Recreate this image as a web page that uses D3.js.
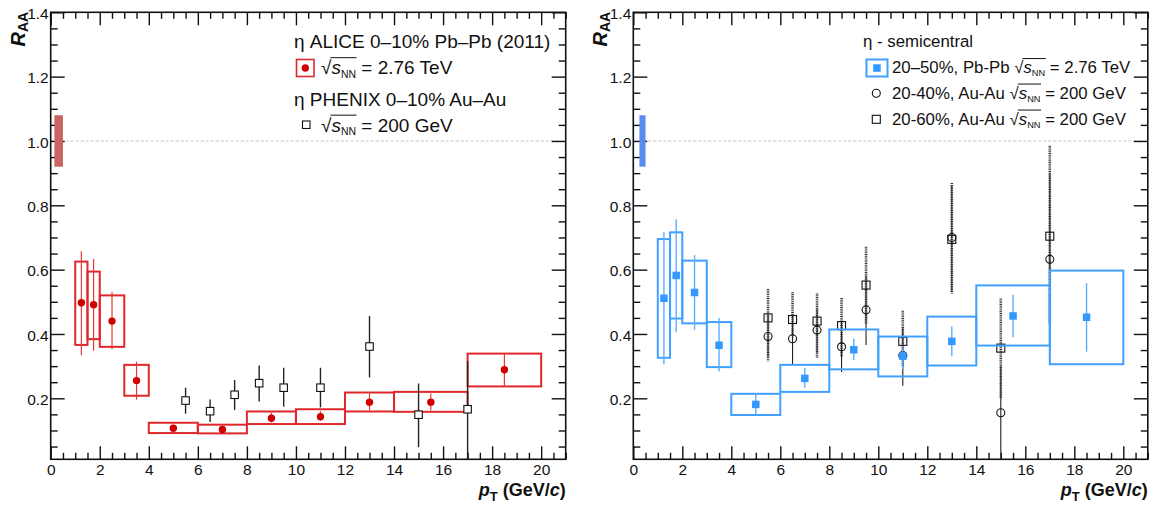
<!DOCTYPE html>
<html>
<head>
<meta charset="utf-8">
<script src="https://cdn.jsdelivr.net/npm/d3@7"></script>
<style>
  html, body { margin: 0; padding: 0; background: #fff; }
  svg { display: block; font-family: "Liberation Sans", Arial, Helvetica, sans-serif; }
</style>
</head>
<body>
<svg id="chart" width="1162" height="507"></svg>
<script>
// ---------------- DATA ----------------
// axis ticks
const xTickValues = [0, 2, 4, 6, 8, 10, 12, 14, 16, 18, 20];
const xTickLabels = ["0", "2", "4", "6", "8", "10", "12", "14", "16", "18", "20"];
const yTickValues = [0.2, 0.4, 0.6, 0.8, 1.0, 1.2, 1.4];
const yTickLabels = ["0.2", "0.4", "0.6", "0.8", "1.0", "1.2", "1.4"];

// ALICE 0-10% Pb-Pb (left panel)
const aliceCentPt     = [1.25, 1.75, 2.5, 3.5, 5, 7, 9, 11, 13, 15.5, 18.5];
const aliceCentBinLo  = [1, 1.5, 2, 3, 4, 6, 8, 10, 12, 14, 17];
const aliceCentBinHi  = [1.5, 2, 3, 4, 6, 8, 10, 12, 14, 17, 20];
const aliceCentRaa    = [0.497, 0.491, 0.440, 0.255, 0.107, 0.103, 0.138, 0.143, 0.188, 0.188, 0.289];
const aliceCentStatLo = [0.334, 0.348, 0.353, 0.196, 0.097, 0.095, 0.125, 0.130, 0.162, 0.162, 0.237];
const aliceCentStatHi = [0.657, 0.633, 0.530, 0.314, 0.118, 0.112, 0.155, 0.160, 0.215, 0.215, 0.339];
const aliceCentSysLo  = [0.366, 0.384, 0.360, 0.208, 0.092, 0.091, 0.120, 0.120, 0.159, 0.158, 0.237];
const aliceCentSysHi  = [0.625, 0.594, 0.520, 0.304, 0.124, 0.118, 0.159, 0.166, 0.218, 0.220, 0.339];

// PHENIX 0-10% Au-Au (left panel)
const phenixCentPt    = [5.5, 6.5, 7.5, 8.5, 9.5, 11, 13, 15, 17];
const phenixCentRaa   = [0.193, 0.160, 0.211, 0.247, 0.233, 0.233, 0.361, 0.149, 0.166];
const phenixCentErrLo = [0.152, 0.126, 0.164, 0.190, 0.174, 0.172, 0.265, 0.048, 0.012];
const phenixCentErrHi = [0.233, 0.196, 0.257, 0.302, 0.295, 0.295, 0.456, 0.246, 0.315];

// ALICE 20-50% Pb-Pb (right panel)
const aliceSemiPt     = [1.25, 1.75, 2.5, 3.5, 5, 7, 9, 11, 13, 15.5, 18.5];
const aliceSemiBinLo  = [1, 1.5, 2, 3, 4, 6, 8, 10, 12, 14, 17];
const aliceSemiBinHi  = [1.5, 2, 3, 4, 6, 8, 10, 12, 14, 17, 20];
const aliceSemiRaa    = [0.511, 0.582, 0.529, 0.365, 0.181, 0.262, 0.351, 0.331, 0.377, 0.456, 0.452];
const aliceSemiStatLo = [0.306, 0.405, 0.413, 0.283, 0.150, 0.233, 0.318, 0.290, 0.331, 0.390, 0.345];
const aliceSemiStatHi = [0.716, 0.757, 0.645, 0.450, 0.215, 0.295, 0.385, 0.363, 0.424, 0.522, 0.558];
const aliceSemiSysLo  = [0.326, 0.448, 0.433, 0.297, 0.148, 0.220, 0.290, 0.268, 0.302, 0.364, 0.306];
const aliceSemiSysHi  = [0.695, 0.716, 0.628, 0.437, 0.214, 0.304, 0.414, 0.392, 0.454, 0.551, 0.597];

// PHENIX 20-40% Au-Au (circles, right panel)
const phenix2040Pt    = [5.5, 6.5, 7.5, 8.5, 9.5, 11, 13, 15, 17];
const phenix2040Raa   = [0.392, 0.385, 0.412, 0.360, 0.475, 0.333, 0.700, 0.155, 0.632];
const phenix2040ErrLo = [0.330, 0.306, 0.340, 0.282, 0.366, 0.239, 0.530, 0.012, 0.350];
const phenix2040ErrHi = [0.460, 0.460, 0.480, 0.440, 0.580, 0.420, 0.860, 0.300, 0.900];

// PHENIX 20-60% Au-Au (squares, right panel)
const phenix2060Pt    = [5.5, 6.5, 7.5, 8.5, 9.5, 11, 13, 15, 17];
const phenix2060Raa   = [0.450, 0.445, 0.440, 0.426, 0.552, 0.377, 0.694, 0.356, 0.704];
const phenix2060ErrLo = [0.315, 0.390, 0.325, 0.330, 0.430, 0.300, 0.526, 0.200, 0.430];
const phenix2060ErrHi = [0.540, 0.530, 0.526, 0.512, 0.671, 0.472, 0.869, 0.510, 0.985];

// global normalisation uncertainty boxes around 1
const globalUncLeft  = [0.92, 1.08];
const globalUncRight = [0.92, 1.08];

// ---------------- DRAWING ----------------
const svg = d3.select("#chart");
svg.append("rect").attr("width", 1162).attr("height", 507).attr("fill", "#fff");

const FONT_TICK = 15.5;
const xDomain = [0, 21];
const yDomain = [0.0104, 1.4];

function makePanel(x0, x1) {
  const x = d3.scaleLinear().domain(xDomain).range([x0, x1]);
  const y = d3.scaleLinear().domain(yDomain).range([459.3, 12.3]);
  const g = svg.append("g");
  return { x, y, g };
}

function drawAxes(p) {
  const { x, y, g } = p;
  const [xa, xb] = x.range();
  const [yb, ya] = y.range();
  const xMinor = d3.range(0.5, 21.01, 0.5).filter(v => Math.abs(v / 2 - Math.round(v / 2)) > 1e-6);
  const yMinor = d3.range(0.05, 1.401, 0.05).filter(v => Math.abs(v / 0.2 - Math.round(v / 0.2)) > 1e-6);

  // dashed line at 1
  g.append("line")
    .attr("x1", x(0)).attr("x2", x(21))
    .attr("y1", y(1)).attr("y2", y(1))
    .attr("stroke", "#c4c4c4").attr("stroke-width", 1).attr("stroke-dasharray", "3,2");

  const style = sel => {
    sel.select(".domain").remove();
    sel.selectAll("line").attr("stroke", "#111").attr("stroke-width", 1.4);
    sel.selectAll("text").attr("fill", "#111").style("font-size", FONT_TICK + "px")
      .style("font-family", '"Liberation Sans", Arial, sans-serif');
  };

  // bottom
  g.append("g").attr("transform", `translate(0,${yb})`)
    .call(d3.axisBottom(x).tickValues(xTickValues).tickSize(-13).tickSizeOuter(0).tickPadding(4.5)
      .tickFormat((d, i) => xTickLabels[i]))
    .call(style);
  g.append("g").attr("transform", `translate(0,${yb})`)
    .call(d3.axisBottom(x).tickValues(xMinor).tickSize(-6.5).tickSizeOuter(0).tickFormat(""))
    .call(style);
  // top
  g.append("g").attr("transform", `translate(0,${ya})`)
    .call(d3.axisTop(x).tickValues(xTickValues).tickSize(-13).tickSizeOuter(0).tickFormat(""))
    .call(style);
  g.append("g").attr("transform", `translate(0,${ya})`)
    .call(d3.axisTop(x).tickValues(xMinor).tickSize(-6.5).tickSizeOuter(0).tickFormat(""))
    .call(style);
  // left
  g.append("g").attr("transform", `translate(${xa},0)`)
    .call(d3.axisLeft(y).tickValues(yTickValues).tickSize(-14).tickSizeOuter(0).tickPadding(2)
      .tickFormat((d, i) => yTickLabels[i]))
    .call(style)
    .call(s => s.selectAll("text").attr("dy", "0.40em"));
  g.append("g").attr("transform", `translate(${xa},0)`)
    .call(d3.axisLeft(y).tickValues(yMinor).tickSize(-7).tickSizeOuter(0).tickFormat(""))
    .call(style);
  // right
  g.append("g").attr("transform", `translate(${xb},0)`)
    .call(d3.axisRight(y).tickValues(yTickValues).tickSize(-14).tickSizeOuter(0).tickFormat(""))
    .call(style);
  g.append("g").attr("transform", `translate(${xb},0)`)
    .call(d3.axisRight(y).tickValues(yMinor).tickSize(-7).tickSizeOuter(0).tickFormat(""))
    .call(style);

  // frame
  g.append("rect").attr("x", xa).attr("y", ya).attr("width", xb - xa).attr("height", yb - ya)
    .attr("fill", "none").attr("stroke", "#111").attr("stroke-width", 1.6);

  // y title R_AA
  const yt = g.append("text")
    .attr("transform", `translate(${xa - 26},${ya - 0.5}) rotate(-90)`)
    .attr("text-anchor", "end")
    .style("font-weight", "bold").attr("fill", "#111");
  yt.append("tspan").style("font-style", "italic").style("font-size", "20px").text("R");
  yt.append("tspan").attr("dy", 3).style("font-size", "14px").text("AA");

  // x title p_T (GeV/c)
  const xt = g.append("text")
    .attr("x", xb).attr("y", 495.5)
    .attr("text-anchor", "end")
    .style("font-weight", "bold").style("font-size", "18px").attr("fill", "#111");
  xt.append("tspan").style("font-style", "italic").text("p");
  xt.append("tspan").attr("dy", 5).style("font-size", "13px").text("T");
  xt.append("tspan").attr("dy", -5).text(" (GeV/");
  xt.append("tspan").style("font-style", "italic").text("c");
  xt.append("tspan").text(")");
}

function drawGlobalBox(p, range, lo, hi, color) {
  p.g.append("rect")
    .attr("x", p.x(range[0])).attr("width", p.x(range[1]) - p.x(range[0]))
    .attr("y", p.y(hi)).attr("height", p.y(lo) - p.y(hi))
    .attr("fill", color);
}

function drawAliceBoxes(p, binLo, binHi, sysLo, sysHi, color) {
  p.g.append("g").selectAll("rect").data(binLo).join("rect")
    .attr("x", (d, i) => p.x(binLo[i]))
    .attr("width", (d, i) => p.x(binHi[i]) - p.x(binLo[i]))
    .attr("y", (d, i) => p.y(sysHi[i]))
    .attr("height", (d, i) => p.y(sysLo[i]) - p.y(sysHi[i]))
    .attr("fill", "none").attr("stroke", color).attr("stroke-width", 2);
}

function drawErrBars(p, pt, lo, hi, color, width, dash) {
  const l = p.g.append("g").selectAll("line").data(pt).join("line")
    .attr("x1", d => p.x(d)).attr("x2", d => p.x(d))
    .attr("y1", (d, i) => p.y(hi[i])).attr("y2", (d, i) => p.y(lo[i]))
    .attr("stroke", color).attr("stroke-width", width);
  if (dash) l.attr("stroke-dasharray", dash);
}

function drawCircles(p, pt, val, r, fill, stroke) {
  p.g.append("g").selectAll("circle").data(pt).join("circle")
    .attr("cx", d => p.x(d)).attr("cy", (d, i) => p.y(val[i])).attr("r", r)
    .attr("fill", fill).attr("stroke", stroke || "none").attr("stroke-width", 1.1);
}

function drawSquares(p, pt, val, s, fill, stroke) {
  p.g.append("g").selectAll("rect").data(pt).join("rect")
    .attr("x", d => p.x(d) - s / 2).attr("y", (d, i) => p.y(val[i]) - s / 2)
    .attr("width", s).attr("height", s)
    .attr("fill", fill).attr("stroke", stroke || "none").attr("stroke-width", 1.1);
}

// text with sqrt(s_NN)
function sqrtText(g, x, y, prefix, suffix, fs) {
  const t = g.append("text").attr("x", x).attr("y", y)
    .style("font-size", fs + "px").attr("fill", "#111");
  t.append("tspan").text(prefix + "\u221A");
  t.append("tspan").style("font-style", "italic").text("s");
  t.append("tspan").attr("dy", fs * 0.2).style("font-size", (fs * 0.55) + "px").text("NN");
  t.append("tspan").attr("dy", -fs * 0.2).text(" " + suffix);
  const n0 = prefix.length + 1;
  const node = t.node();
  try {
    const eR = node.getExtentOfChar(n0 - 1);
    const e1 = node.getExtentOfChar(n0 + 2);
    g.append("line")
      .attr("x1", eR.x + eR.width - 1).attr("x2", e1.x + e1.width + 0.5)
      .attr("y1", y - fs * 0.86).attr("y2", y - fs * 0.86)
      .attr("stroke", "#111").attr("stroke-width", 1);
  } catch (e) {}
  return t;
}

// ---------- LEFT PANEL ----------
const L = makePanel(50.7, 565.7);
drawAxes(L);
drawGlobalBox(L, [0.15, 0.5], globalUncLeft[0], globalUncLeft[1], "#cd6464");
drawAliceBoxes(L, aliceCentBinLo, aliceCentBinHi, aliceCentSysLo, aliceCentSysHi, "#e0282c");
drawErrBars(L, aliceCentPt, aliceCentStatLo, aliceCentStatHi, "#e03a3a", 1.2);
drawCircles(L, aliceCentPt, aliceCentRaa, 3.7, "#d00000");
drawErrBars(L, phenixCentPt, phenixCentErrLo, phenixCentErrHi, "#222", 1.4);
drawSquares(L, phenixCentPt, phenixCentRaa, 7.5, "#fff", "#111");

// left legend
const FL = 19;
L.g.append("text").attr("x", 294).attr("y", 48).style("font-size", FL + "px").attr("fill", "#111")
  .text("\u03B7 ALICE 0\u201310% Pb\u2013Pb (2011)");
L.g.append("rect").attr("x", 296.5).attr("y", 59.5).attr("width", 17.5).attr("height", 17)
  .attr("fill", "#fff").attr("stroke", "#e0282c").attr("stroke-width", 1.6);
L.g.append("circle").attr("cx", 305.3).attr("cy", 68).attr("r", 3.7).attr("fill", "#d00000");
sqrtText(L.g, 321, 74, "", "= 2.76 TeV", FL);
L.g.append("text").attr("x", 294).attr("y", 106).style("font-size", FL + "px").attr("fill", "#111")
  .text("\u03B7 PHENIX 0\u201310% Au\u2013Au");
L.g.append("rect").attr("x", 302.5).attr("y", 121).attr("width", 7.5).attr("height", 7.5)
  .attr("fill", "#fff").attr("stroke", "#111").attr("stroke-width", 1.1);
sqrtText(L.g, 321, 131.5, "", "= 200 GeV", FL);

// ---------- RIGHT PANEL ----------
const R = makePanel(633.3, 1147.8);
drawAxes(R);
drawGlobalBox(R, [0.25, 0.5], globalUncRight[0], globalUncRight[1], "#5a8cf0");
drawErrBars(R, phenix2040Pt, phenix2040ErrLo, phenix2040ErrHi, "#222", 1.1);
drawErrBars(R, phenix2060Pt, phenix2060ErrLo, phenix2060ErrHi, "#333", 2.6, "1,0.8");
drawCircles(R, phenix2040Pt, phenix2040Raa, 4, "none", "#111");
drawSquares(R, phenix2060Pt, phenix2060Raa, 8, "none", "#111");
drawAliceBoxes(R, aliceSemiBinLo, aliceSemiBinHi, aliceSemiSysLo, aliceSemiSysHi, "#40a0ff");
drawErrBars(R, aliceSemiPt, aliceSemiStatLo, aliceSemiStatHi, "#5aaeff", 1.4);
drawSquares(R, aliceSemiPt, aliceSemiRaa, 7.5, "#3399ff");

// right legend
const FR = 16.8;
R.g.append("text").attr("x", 863).attr("y", 47).style("font-size", FR + "px").attr("fill", "#111")
  .text("\u03B7 - semicentral");
R.g.append("rect").attr("x", 866.5).attr("y", 59.5).attr("width", 21).attr("height", 17)
  .attr("fill", "#fff").attr("stroke", "#40a0ff").attr("stroke-width", 2);
R.g.append("rect").attr("x", 873.2).attr("y", 64.3).attr("width", 7.5).attr("height", 7.5).attr("fill", "#3399ff");
sqrtText(R.g, 892, 73, "20\u201350%, Pb-Pb ", "= 2.76 TeV", FR);
R.g.append("circle").attr("cx", 876.3).attr("cy", 93.3).attr("r", 4)
  .attr("fill", "none").attr("stroke", "#111").attr("stroke-width", 1.1);
sqrtText(R.g, 892, 98.5, "20-40%, Au-Au ", "= 200 GeV", FR);
R.g.append("rect").attr("x", 872.3).attr("y", 115.3).attr("width", 8).attr("height", 8)
  .attr("fill", "none").attr("stroke", "#111").attr("stroke-width", 1.1);
sqrtText(R.g, 892, 124.5, "20-60%, Au-Au ", "= 200 GeV", FR);
</script>
</body>
</html>
